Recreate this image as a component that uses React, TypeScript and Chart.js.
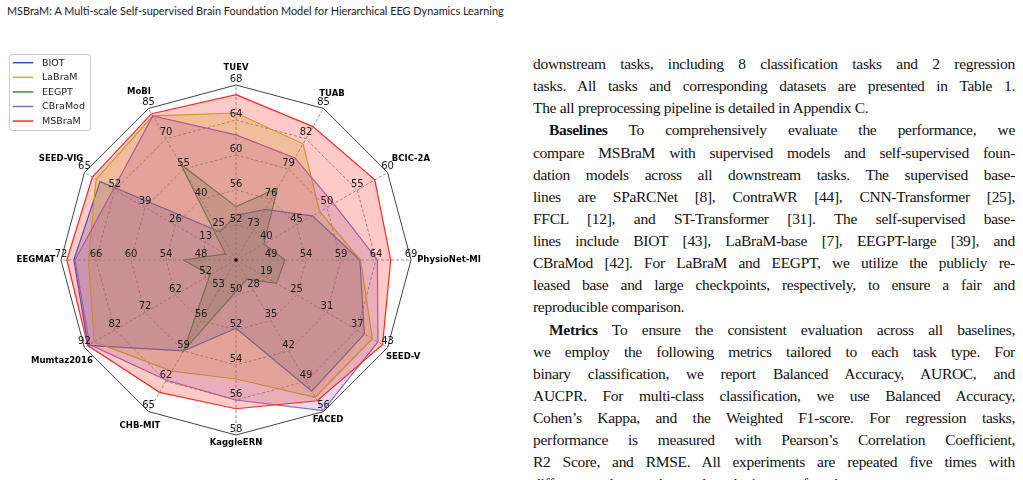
import React, { useEffect, useRef } from 'react';
import { Chart, registerables } from 'chart.js';

Chart.register(...registerables);

// ---------- data ----------
const axisNames = ['TUEV', 'TUAB', 'BCIC-2A', 'PhysioNet-MI', 'SEED-V', 'FACED', 'KaggleERN', 'CHB-MIT', 'Mumtaz2016', 'EEGMAT', 'SEED-VIG', 'MoBI'];
const axisCenter = [48, 70, 35, 44, 13, 21, 48, 50, 42, 42, 0, 10];
const axisTicks = [
  [52, 56, 60, 64, 68],
  [73, 76, 79, 82, 85],
  [40, 45, 50, 55, 60],
  [49, 54, 59, 64, 69],
  [19, 25, 31, 37, 43],
  [28, 35, 42, 49, 56],
  [50, 52, 54, 56, 58],
  [53, 56, 59, 62, 65],
  [52, 62, 72, 82, 92],
  [48, 54, 60, 66, 72],
  [13, 26, 39, 52, 65],
  [25, 40, 55, 70, 85],
];

const seriesNames = ['BIOT', 'LaBraM', 'EEGPT', 'CBraMod', 'MSBraM'];
const biot = [53.1, 75.0, 47.6, 61.7, 38.4, 51.3, 51.9, 59.0, 90.8, 69.8, 58.3, 23.9];
const labram = [64.8, 81.5, 48.8, 61.8, 40.0, 52.7, 54.8, 61.0, 88.8, 67.3, 60.0, 81.3];
const eegpt = [54.1, 77.1, 39.6, 51.0, 21.0, 25.4, 49.8, 59.0, 50.6, 51.0, 4.5, 57.3];
const cbramod = [62.3, 80.1, 51.1, 64.2, 41.1, 55.8, 56.0, 61.9, 90.3, 69.6, 52.6, 81.3];
const msbram = [66.9, 83.2, 57.9, 66.1, 42.0, 53.5, 56.5, 63.1, 90.9, 71.0, 61.6, 82.4];

// ---------- styles ----------
const seriesColors = ['#2357c8', '#bcbd22', '#3d8f3d', '#9467bd', '#ff2a1f'];
const fillAlpha = 0.25;
const nameRadius = [192, 192, 202, 213, 193, 184, 183, 192, 201, 200, 202, 194];

const textLines: { text: string; bold?: string; indent?: boolean; last?: boolean }[] = [
  { text: 'downstream tasks, including 8 classification tasks and 2 regression' },
  { text: 'tasks. All tasks and corresponding datasets are presented in Table 1.' },
  { text: 'The all preprocessing pipeline is detailed in Appendix C.', last: true },
  { bold: 'Baselines', text: ' To comprehensively evaluate the performance, we', indent: true },
  { text: 'compare MSBraM with supervised models and self-supervised foun-' },
  { text: 'dation models across all downstream tasks. The supervised base-' },
  { text: 'lines are SPaRCNet [8], ContraWR [44], CNN-Transformer [25],' },
  { text: 'FFCL [12], and ST-Transformer [31]. The self-supervised base-' },
  { text: 'lines include BIOT [43], LaBraM-base [7], EEGPT-large [39], and' },
  { text: 'CBraMod [42]. For LaBraM and EEGPT, we utilize the publicly re-' },
  { text: 'leased base and large checkpoints, respectively, to ensure a fair and' },
  { text: 'reproducible comparison.', last: true },
  { bold: 'Metrics', text: ' To ensure the consistent evaluation across all baselines,', indent: true },
  { text: 'we employ the following metrics tailored to each task type. For' },
  { text: 'binary classification, we report Balanced Accuracy, AUROC, and' },
  { text: 'AUCPR. For multi-class classification, we use Balanced Accuracy,' },
  { text: 'Cohen\u2019s Kappa, and the Weighted F1-score. For regression tasks,' },
  { text: 'performance is measured with Pearson\u2019s Correlation Coefficient,' },
  { text: 'R2 Score, and RMSE. All experiments are repeated five times with' },
  { text: 'different random seeds to reduce the impact of randomness.', last: true },
];

function hexToRgba(hex: string, a: number) {
  const n = parseInt(hex.slice(1), 16);
  return `rgba(${(n >> 16) & 255},${(n >> 8) & 255},${n & 255},${a})`;
}

function norm(v: number, i: number) {
  const lo = axisCenter[i];
  const hi = axisTicks[i][axisTicks[i].length - 1];
  return ((v - lo) / (hi - lo)) * 5;
}

const decor = {
  id: 'radarDecor',
  beforeDatasetsDraw(chart: any) {
    const s = chart.scales.r;
    const ctx = chart.ctx;
    const n = axisNames.length;
    ctx.save();
    for (let k = 1; k <= 5; k++) {
      const d = s.getDistanceFromCenterForValue(k);
      ctx.beginPath();
      for (let i = 0; i < n; i++) {
        const p = s.getPointPosition(i, d);
        if (i === 0) ctx.moveTo(p.x, p.y);
        else ctx.lineTo(p.x, p.y);
      }
      ctx.closePath();
      if (k === 5) {
        ctx.setLineDash([]);
        ctx.strokeStyle = '#444';
        ctx.lineWidth = 1;
      } else {
        ctx.setLineDash([3, 2]);
        ctx.strokeStyle = '#777';
        ctx.lineWidth = 0.8;
      }
      ctx.stroke();
    }
    const dMax = s.getDistanceFromCenterForValue(5);
    ctx.setLineDash([3, 2]);
    ctx.strokeStyle = '#777';
    ctx.lineWidth = 0.8;
    for (let i = 0; i < n; i++) {
      const p = s.getPointPosition(i, dMax);
      ctx.beginPath();
      ctx.moveTo(s.xCenter, s.yCenter);
      ctx.lineTo(p.x, p.y);
      ctx.stroke();
    }
    ctx.restore();
  },
  afterDatasetsDraw(chart: any) {
    const s = chart.scales.r;
    const ctx = chart.ctx;
    const n = axisNames.length;
    ctx.save();
    ctx.fillStyle = '#111';
    ctx.beginPath();
    ctx.arc(s.xCenter, s.yCenter, 1.8, 0, Math.PI * 2);
    ctx.fill();
    ctx.font = '10px "DejaVu Sans"';
    ctx.fillStyle = '#1a1a1a';
    ctx.textAlign = 'center';
    ctx.textBaseline = 'middle';
    for (let i = 0; i < n; i++) {
      axisTicks[i].forEach((t, k) => {
        const p = s.getPointPosition(i, s.getDistanceFromCenterForValue(k + 1));
        ctx.fillText(String(t), p.x, p.y - 6);
      });
    }
    ctx.font = 'bold 8.5px "DejaVu Sans"';
    ctx.fillStyle = '#000';
    for (let i = 0; i < n; i++) {
      const p = s.getPointPosition(i, nameRadius[i]);
      ctx.fillText(axisNames[i], p.x, p.y);
    }
    const lx = 9.5, ly = 14.5, lw = 81, lh = 76;
    ctx.fillStyle = 'rgba(255,255,255,0.85)';
    ctx.strokeStyle = '#cccccc';
    ctx.lineWidth = 1;
    ctx.beginPath();
    const rr = 2.5;
    ctx.moveTo(lx + rr, ly);
    ctx.lineTo(lx + lw - rr, ly);
    ctx.quadraticCurveTo(lx + lw, ly, lx + lw, ly + rr);
    ctx.lineTo(lx + lw, ly + lh - rr);
    ctx.quadraticCurveTo(lx + lw, ly + lh, lx + lw - rr, ly + lh);
    ctx.lineTo(lx + rr, ly + lh);
    ctx.quadraticCurveTo(lx, ly + lh, lx, ly + lh - rr);
    ctx.lineTo(lx, ly + rr);
    ctx.quadraticCurveTo(lx, ly, lx + rr, ly);
    ctx.closePath();
    ctx.fill();
    ctx.stroke();
    ctx.font = '9.5px "DejaVu Sans"';
    ctx.textAlign = 'left';
    ctx.textBaseline = 'middle';
    seriesNames.forEach((name, j) => {
      const y = 22.7 + j * 14.6;
      ctx.strokeStyle = seriesColors[j];
      ctx.lineWidth = 1.5;
      ctx.beginPath();
      ctx.moveTo(12.7, y);
      ctx.lineTo(33.3, y);
      ctx.stroke();
      ctx.fillStyle = '#222';
      ctx.fillText(name, 42, y + 0.5);
    });
    ctx.restore();
  },
};

function RadarChart() {
  const ref = useRef<HTMLCanvasElement | null>(null);
  useEffect(() => {
    if (!ref.current) return;
    const series = [biot, labram, eegpt, cbramod, msbram];
    const chart = new Chart(ref.current, {
      type: 'radar',
      data: {
        labels: axisNames,
        datasets: series.map((vals, j) => ({
          label: seriesNames[j],
          data: vals.map((v, i) => norm(v, i)),
          borderColor: seriesColors[j],
          backgroundColor: hexToRgba(seriesColors[j], fillAlpha),
          borderWidth: 1.2,
          pointRadius: 0,
          fill: true,
          order: 4 - j,
        })),
      },
      options: {
        responsive: false,
        animation: false,
        devicePixelRatio: 1,
        layout: { padding: { left: 61, right: 109, top: 45, bottom: 45 } },
        plugins: { legend: { display: false }, tooltip: { enabled: false } },
        elements: { line: { tension: 0 } },
        scales: {
          r: {
            min: 0,
            max: 5,
            ticks: { display: false, stepSize: 1 },
            pointLabels: { display: false },
            grid: { display: false },
            angleLines: { display: false },
          },
        },
      },
      plugins: [decor],
    } as any);
    return () => chart.destroy();
  }, []);
  return <canvas ref={ref} width={520} height={440} style={{ position: 'absolute', left: 0, top: 40, width: 520, height: 440 }} />;
}

export default function App() {
  const lineH = 22.13;
  return (
    <div style={{ position: 'absolute', left: 0, top: 0, width: 1023, height: 480, overflow: 'hidden', background: '#fff' }}>
      <div style={{ position: 'absolute', left: 7, top: 4, fontFamily: 'Lato, "Open Sans", sans-serif', fontSize: 10.9, color: '#222', whiteSpace: 'nowrap' }}>
        MSBraM: A Multi-scale Self-supervised Brain Foundation Model for Hierarchical EEG Dynamics Learning
      </div>
      <RadarChart />
      <div style={{ position: 'absolute', left: 533, top: 53, width: 482, fontFamily: '"Liberation Serif", serif', fontSize: 15.5, letterSpacing: -0.3, color: '#111' }}>
        {textLines.map((l, k) => (
          <div
            key={k}
            style={{
              height: lineH,
              lineHeight: `${lineH}px`,
              textAlign: l.last ? 'left' : 'justify',
              textAlignLast: l.last ? 'left' : 'justify',
              paddingLeft: l.indent ? 16 : 0,
              whiteSpace: 'normal',
              overflow: 'hidden',
            }}
          >
            {l.bold ? <b>{l.bold}</b> : null}
            {l.text}
          </div>
        ))}
      </div>
    </div>
  );
}
